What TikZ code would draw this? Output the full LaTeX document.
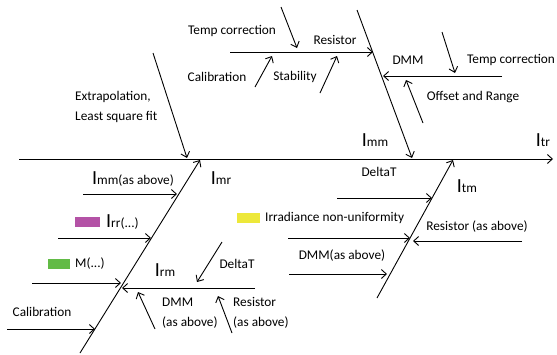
\documentclass[tikz,border=0pt]{standalone}
\usepackage{fontspec}
\setmainfont{Carlito}
\usetikzlibrary{arrows.meta}
\definecolor{magbox}{HTML}{B452A6}
\definecolor{grnbox}{HTML}{62BB46}
\definecolor{yelbox}{HTML}{EDE83A}
\newcommand{\Ibig}[1]{{\fontsize{20}{20}\selectfont I}#1}
\tikzset{
  lbl/.style={inner sep=0pt, font=\fontsize{13.3}{20}\selectfont},
  arr/.style={line width=0.9pt, -{Straight Barb[length=5pt,width=9pt]}},
  swatch/.style={inner sep=0pt, draw=none, minimum width=#1, minimum height=10pt},
}
\begin{document}
\begin{tikzpicture}[x=1pt,y=-1pt]
\useasboundingbox (0,0) rectangle (557,354);
% spine
\coordinate (s0) at (19,159);
\coordinate (s1) at (553,159);
\draw[arr] (s0) -- (s1);
% bones
\coordinate (b1a) at (153,53);  \coordinate (b1b) at (187,158);
\coordinate (b2a) at (357,10);  \coordinate (b2b) at (412,158);
\coordinate (b3a) at (80,353);  \coordinate (b3b) at (200,160);
\coordinate (b4a) at (377,298); \coordinate (b4b) at (453,160);
\draw[arr] (b1a) -- (b1b);
\draw[arr] (b2a) -- (b2b);
\draw[arr] (b3a) -- (b3b);
\draw[arr] (b4a) -- (b4b);
% main labels
\node[lbl] (imm) at (375,140) {\Ibig{mm}};
\node[lbl] (itr) at (543,140) {\Ibig{tr}};
\node[lbl] (imr) at (221,178) {\Ibig{mr}};
\node[lbl] (itm) at (467,186) {\Ibig{tm}};
\node[lbl,anchor=west,align=left] (extra) at (75,107) {Extrapolation,\\Least square fit};
% upper right: resistor branch
\coordinate (r0) at (230,52); \coordinate (r1) at (373,52);
\draw[arr] (r0) -- (r1);
\node[lbl] (res) at (335,40) {Resistor};
\node[lbl] (tc1) at (232,31) {Temp correction};
\coordinate (t0) at (281,7); \coordinate (t1) at (297,48);
\draw[arr] (t0) -- (t1);
\node[lbl] (cal1) at (217,77) {Calibration};
\coordinate (c0) at (255,87); \coordinate (c1) at (272,56);
\draw[arr] (c0) -- (c1);
\node[lbl] (stab) at (295,77) {Stability};
\coordinate (st0) at (320,93); \coordinate (st1) at (337,56);
\draw[arr] (st0) -- (st1);
% upper right: DMM branch
\coordinate (d0) at (502,76); \coordinate (d1) at (383,76);
\draw[arr] (d0) -- (d1);
\node[lbl] (dmm1) at (408,60) {DMM};
\node[lbl] (tc2) at (511,60) {Temp correction};
\coordinate (t20) at (442,32); \coordinate (t21) at (455,73);
\draw[arr] (t20) -- (t21);
\node[lbl] (off) at (473,97) {Offset and Range};
\coordinate (o0) at (423,123); \coordinate (o1) at (406,80);
\draw[arr] (o0) -- (o1);
% lower left
\node[lbl] (immab) at (133,179) {\Ibig{mm(as above)}};
\coordinate (a0) at (83,194); \coordinate (a1) at (177,194);
\draw[arr] (a0) -- (a1);
\node[swatch=25pt, fill=magbox] (magsw) at (87.5,222) {};
\node[lbl,anchor=west] (irr) at (106,222) {\Ibig{rr(...)}};
\coordinate (a2) at (58,238); \coordinate (a3) at (151,238);
\draw[arr] (a2) -- (a3);
\node[swatch=22pt, fill=grnbox] (grnsw) at (59,264) {};
\node[lbl,anchor=west] (mm) at (75,264) {M(...)};
\coordinate (a4) at (32,283); \coordinate (a5) at (121,283);
\draw[arr] (a4) -- (a5);
\node[lbl] (cal2) at (42,312) {Calibration};
\coordinate (a6) at (7,329); \coordinate (a7) at (95,329);
\draw[arr] (a6) -- (a7);
% Irm branch
\coordinate (m0) at (255,288); \coordinate (m1) at (122,288);
\draw[arr] (m0) -- (m1);
\node[lbl] (irm) at (165,270) {\Ibig{rm}};
\node[lbl] (dt1) at (237,264) {DeltaT};
\coordinate (m2) at (222,242); \coordinate (m3) at (197,282);
\draw[arr] (m2) -- (m3);
\node[lbl,anchor=west,align=left] (dmm2) at (162,313) {DMM\\(as above)};
\coordinate (m4) at (155,329); \coordinate (m5) at (138,292);
\draw[arr] (m4) -- (m5);
\node[lbl,anchor=west,align=left] (res2) at (233,313) {Resistor\\(as above)};
\coordinate (m6) at (232,333); \coordinate (m7) at (218,296);
\draw[arr] (m6) -- (m7);
% lower right
\node[lbl] (dt2) at (379,172) {DeltaT};
\coordinate (e0) at (337,198); \coordinate (e1) at (432,198);
\draw[arr] (e0) -- (e1);
\node[swatch=23pt, fill=yelbox] (yelsw) at (248.5,218) {};
\node[lbl,anchor=west] (irrad) at (265,218) {Irradiance non-uniformity};
\coordinate (e2) at (288,238); \coordinate (e3) at (410,238);
\draw[arr] (e2) -- (e3);
\node[lbl] (res3) at (477,227) {Resistor (as above)};
\coordinate (e4) at (522,241); \coordinate (e5) at (413,241);
\draw[arr] (e4) -- (e5);
\node[lbl] (dmm3) at (342,256) {DMM(as above)};
\coordinate (e6) at (289,274); \coordinate (e7) at (387,274);
\draw[arr] (e6) -- (e7);
\end{tikzpicture}
\end{document}
